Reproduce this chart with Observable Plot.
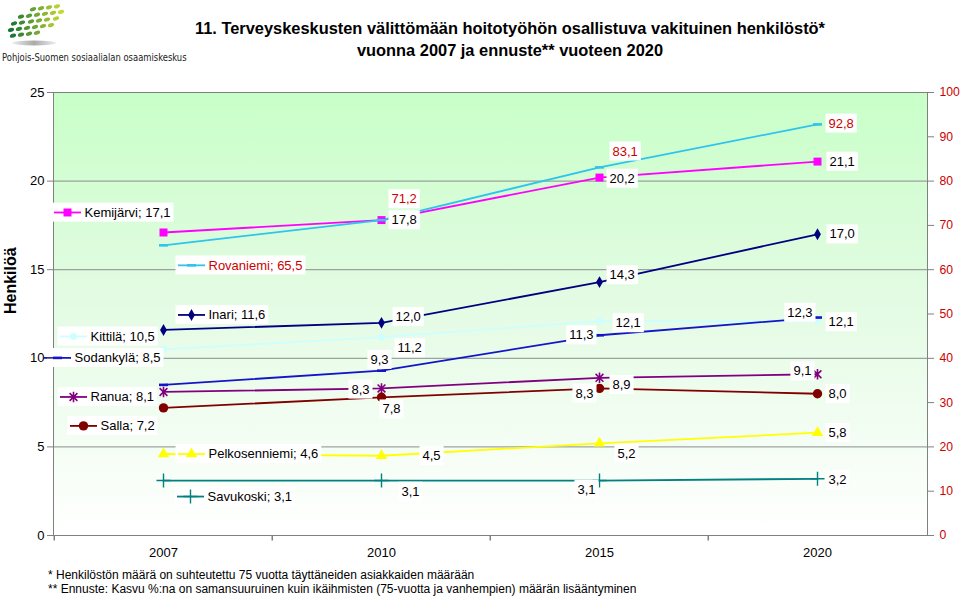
<!DOCTYPE html>
<html>
<head>
<meta charset="utf-8">
<script src="https://cdn.jsdelivr.net/npm/d3@7"></script>
<script src="https://cdn.jsdelivr.net/npm/@observablehq/plot@0.6"></script>
<style>
  body { margin: 0; background: #fff; font-family: Arial, "Liberation Sans", sans-serif; }
  #wrap { position: relative; width: 960px; height: 598px; overflow: hidden; background: #fff; }
  #title { position: absolute; left: 0; width: 1020px; top: 17px; text-align: center; font-weight: bold; font-size: 16.4px; line-height: 22px; color: #000; }
  #logo { position: absolute; left: 0; top: 0; }
  #logotext { position: absolute; left: 2px; top: 50px; font-family: "DejaVu Sans Condensed", "DejaVu Sans", sans-serif; font-size: 10.5px; line-height: 14px; color: #222; white-space: nowrap; transform: scaleX(0.89); transform-origin: 0 0; }
  #chart { position: absolute; left: 0; top: 70px; }
  #notes { position: absolute; left: 48px; top: 568px; font-size: 12px; line-height: 14px; color: #000; white-space: nowrap; }
</style>
</head>
<body>
<div id="wrap">
  <svg id="logo" width="80" height="50"></svg>
  <div id="logotext">Pohjois-Suomen sosiaalialan osaamiskeskus</div>
  <div id="title">11. Terveyskeskusten välittömään hoitotyöhön osallistuva vakituinen henkilöstö*<br>vuonna 2007 ja ennuste** vuoteen 2020</div>
  <div id="chart"></div>
  <div id="notes">* Henkilöstön määrä on suhteutettu 75 vuotta täyttäneiden asiakkaiden määrään<br>** Ennuste: Kasvu %:na on samansuuruinen kuin ikäihmisten (75-vuotta ja vanhempien) määrän lisääntyminen</div>
</div>
<script>
// ---------------- DATA ----------------
const years = ["2007", "2010", "2015", "2020"];
const kemijarvi = [17.1, 17.8, 20.2, 21.1];
const rovaniemi = [65.5, 71.2, 83.1, 92.8];   // read on the right axis (0–100)
const inari = [11.6, 12.0, 14.3, 17.0];
const kittila = [10.5, 11.2, 12.1, 12.1];
const sodankyla = [8.5, 9.3, 11.3, 12.3];
const ranua = [8.1, 8.3, 8.9, 9.1];
const salla = [7.2, 7.8, 8.3, 8.0];
const pelkosenniemi = [4.6, 4.5, 5.2, 5.8];
const savukoski = [3.1, 3.1, 3.1, 3.2];
const leftTicks = [0, 5, 10, 15, 20, 25];
const rightTicks = [0, 10, 20, 30, 40, 50, 60, 70, 80, 90, 100];

// ---------------- LAYOUT / STYLE ----------------
const W = 960, H = 495;
const mL = 53, mR = 33, mT = 22, mB = 30;
const rightToLeft = 25 / 100; // right axis 0–100 maps onto left 0–25
const step = (W - mL - mR) / years.length;

const dashSym = {draw(ctx) { ctx.moveTo(-4.5, -1.3); ctx.lineTo(4.5, -1.3); ctx.lineTo(4.5, 1.3); ctx.lineTo(-4.5, 1.3); ctx.closePath(); }};
const keyLineSym = {draw(ctx) { ctx.moveTo(-13.5, 0); ctx.lineTo(13.5, 0); }};
const starSym = {draw(ctx, size) { const r = Math.sqrt(size / Math.PI); const d = r * 0.75;
  ctx.moveTo(0, -r); ctx.lineTo(0, r); ctx.moveTo(-d, -d); ctx.lineTo(d, d); ctx.moveTo(-d, d); ctx.lineTo(d, -d); }};
const vTickSym = {draw(ctx) { ctx.moveTo(0, 0); ctx.lineTo(0, 5); }};

// label placement per point: [dx, dy, textAnchor]; the first one carries the legend key
const seriesStyle = [
  {name: "Kemijärvi", values: kemijarvi, right: false, color: "#FF00FF", labelColor: "#000",
   marker: {symbol: "square", r: 4.5, fill: "#FF00FF"},
   place: [[-79, -20, "start"], [10, 0, "start"], [10, 1, "start"], [12, 0, "start"]]},
  {name: "Rovaniemi", values: rovaniemi, right: true, color: "#2EC4EE", labelColor: "#CC0000",
   marker: {symbol: dashSym, r: 4, fill: "#2EC4EE"},
   place: [[45, 20, "start"], [10, -21, "start"], [13, -16, "start"], [11, -1, "start"]]},
  {name: "Inari", values: inari, right: false, color: "#000080", labelColor: "#000",
   marker: {symbol: "diamond", r: 3.6, fill: "#000080"},
   place: [[45, -15, "start"], [14, -6, "start"], [10, -7, "start"], [12, 0, "start"]]},
  {name: "Kittilä", values: kittila, right: false, color: "#CCFFFF", labelColor: "#000",
   marker: {symbol: "circle", r: 3.4, fill: "#CCFFFF"},
   place: [[-73, -13, "start"], [16, 11, "start"], [16, 2, "start"], [11, 1, "start"]]},
  {name: "Sodankylä", values: sodankyla, right: false, color: "#1515C8", labelColor: "#000",
   marker: {symbol: dashSym, r: 4, fill: "#1515C8"},
   place: [[-89, -27, "start"], [-2, -11, "middle"], [-6, 0, "end"], [-5, -5, "end"]]},
  {name: "Ranua", values: ranua, right: false, color: "#800080", labelColor: "#000",
   marker: {symbol: starSym, r: 5.2, stroke: "#800080", strokeWidth: 1.6},
   place: [[-73, 5, "start"], [-12, 1, "end"], [13, 7, "start"], [-6, -3, "end"]]},
  {name: "Salla", values: salla, right: false, color: "#800000", labelColor: "#000",
   marker: {symbol: "circle", r: 4.7, fill: "#800000"},
   place: [[-63, 18, "start"], [10, 12, "middle"], [-6, 5, "end"], [11, 0, "start"]]},
  {name: "Pelkosenniemi", values: pelkosenniemi, right: false, color: "#FFFF00", labelColor: "#000",
   marker: {symbol: "triangle", r: 4.2, fill: "#FFFF00"},
   place: [[45, 0, "start"], [41, 0, "start"], [18, 10, "start"], [11, 0, "start"]]},
  {name: "Savukoski", values: savukoski, right: false, color: "#008080", labelColor: "#000",
   marker: {symbol: "plus", r: 4.6, stroke: "#008080", strokeWidth: 1.4},
   place: [[44, 16, "start"], [20, 11, "start"], [-4, 9, "end"], [11, 1, "start"]]}
];

const fmt = v => v.toFixed(1).replace(".", ",");

function markerOpts(m) {
  const o = {symbol: m.symbol, r: m.r};
  if (m.fill) { o.fill = m.fill; o.stroke = "none"; }
  else { o.fill = "none"; o.stroke = m.stroke; o.strokeWidth = m.strokeWidth; }
  return o;
}

const lineMarks = [], dotMarks = [], keyLines = [], keyMarkers = [], texts = [];
for (const s of seriesStyle) {
  const rows = s.values.map((v, i) => ({year: years[i], y: s.right ? v * rightToLeft : v, v}));
  lineMarks.push(Plot.line(rows, {x: "year", y: "y", stroke: s.color, strokeWidth: 1.8}));
  dotMarks.push(Plot.dot(rows, {x: "year", y: "y", ...markerOpts(s.marker)}));
  rows.forEach((r, i) => {
    const [dx, dy, anchor] = s.place[i];
    const keyed = i === 0;
    const datum = [{...r, text: keyed ? `${s.name}; ${fmt(r.v)}` : fmt(r.v)}];
    if (keyed) {
      keyLines.push(Plot.dot(datum, {x: "year", y: "y", symbol: keyLineSym, stroke: s.color, strokeWidth: 1.8, fill: "none", dx: dx - 17, dy, ariaDescription: "keyline"}));
      keyMarkers.push(Plot.dot(datum, {x: "year", y: "y", ...markerOpts(s.marker), dx: dx - 17, dy, ariaDescription: "keymarker"}));
    }
    texts.push(Plot.text(datum, {x: "year", y: "y", text: "text", dx, dy, textAnchor: anchor,
      fill: s.labelColor, fontSize: 13, ariaDescription: keyed ? "keylabel" : "datalabel"}));
  });
}

const chart = Plot.plot({
  width: W, height: H,
  marginLeft: mL, marginRight: mR, marginTop: mT, marginBottom: mB,
  style: {fontFamily: "Arial, 'Liberation Sans', sans-serif", background: "transparent", overflow: "visible"},
  x: {type: "point", domain: years, padding: 0.5, axis: null},
  y: {domain: [0, 25], axis: null},
  marks: [
    Plot.frame({fill: "url(#plotBg)", stroke: "none"}),
    Plot.gridY({ticks: leftTicks.filter(t => t > 0 && t < 25), stroke: "#8c8c8c", strokeOpacity: 1, strokeWidth: 1}),
    Plot.frame({stroke: "#808080", strokeWidth: 1}),
    Plot.axisY({ticks: rightTicks.map(t => t * rightToLeft), anchor: "right", tickSize: 6, tickPadding: 6,
      tickFormat: d => String(Math.round(d / rightToLeft)), stroke: "#808080", fill: "#CC0000", fontSize: 12.2, label: null}),
    Plot.axisX({ticks: years, tickSize: 0, tickPadding: 12, fill: "#000", fontSize: 13, label: null}),
    Plot.dot(years, {x: d => d, y: () => 0, symbol: vTickSym, stroke: "#808080", fill: "none", dx: -step / 2}),
    Plot.text(["Henkilöä"], {frameAnchor: "left", text: d => d, rotate: -90, dx: -43, fontWeight: "bold", fontSize: 16, fill: "#000"}),
    ...lineMarks,
    ...dotMarks,
    ...keyLines,
    ...keyMarkers,
    ...texts,
    Plot.axisY({ticks: leftTicks, anchor: "left", tickSize: 6, tickPadding: 3, stroke: "#808080", fill: "#000", fontSize: 13, label: null})
  ]
});

document.getElementById("chart").appendChild(chart);

// gradient background of the plot area
const svg = d3.select(chart.tagName.toLowerCase() === "svg" ? chart : chart.querySelector("svg"));
const defs = svg.insert("defs", ":first-child");
const grad = defs.append("linearGradient").attr("id", "plotBg").attr("x1", 0).attr("y1", 0).attr("x2", 0).attr("y2", 1);
grad.append("stop").attr("offset", "0%").attr("stop-color", "#C8FFC8");
grad.append("stop").attr("offset", "45%").attr("stop-color", "#E2FBE2");
grad.append("stop").attr("offset", "100%").attr("stop-color", "#FFFFFF");

// white boxes behind data labels (drawn under the legend keys and label texts)
const svgNode = svg.node();
const sr = svgNode.getBoundingClientRect();
const firstKey = svgNode.querySelector("g[aria-description='keyline']");
const boxG = d3.create("svg:g").attr("aria-label", "label boxes");
svg.selectAll("g[aria-description='datalabel'] text, g[aria-description='keylabel'] text").each(function() {
  const b = this.getBoundingClientRect();
  const keyed = this.parentNode.getAttribute("aria-description") === "keylabel";
  const left = b.left - sr.left - (keyed ? 33 : 3);
  const right = b.right - sr.left + 3;
  boxG.append("rect").attr("x", left).attr("y", b.top - sr.top - 2).attr("width", right - left).attr("height", b.height + 4).attr("fill", "#fff");
});
if (firstKey) svgNode.insertBefore(boxG.node(), firstKey); else svgNode.appendChild(boxG.node());

// logo decoration
const logo = d3.select("#logo");
const color = d3.scaleLinear().domain([10, 62]).range(["#17723a", "#c6dc2e"]);
const rowsDots = [
  {y: 9, xs: [33, 41, 49, 57]},
  {y: 15, xs: [21, 29, 37, 45, 53, 61]},
  {y: 21, xs: [14, 22, 31, 39, 47, 56]},
  {y: 27, xs: [11, 19, 27, 35, 43, 51]},
  {y: 33, xs: [13, 21, 29, 37]}
];
const sh = logo.append("defs").append("linearGradient").attr("id", "shadowG");
sh.append("stop").attr("offset", "0%").attr("stop-color", "#eee");
sh.append("stop").attr("offset", "50%").attr("stop-color", "#aaa");
sh.append("stop").attr("offset", "100%").attr("stop-color", "#eee");
logo.append("ellipse").attr("cx", 34).attr("cy", 43).attr("rx", 22).attr("ry", 2.4).attr("fill", "url(#shadowG)");
rowsDots.forEach(r => r.xs.forEach(xv => {
  const cy = r.y - (xv - 35) * 0.12;
  logo.append("ellipse").attr("cx", xv).attr("cy", cy).attr("rx", 3.2).attr("ry", 1.9)
    .attr("transform", `rotate(-18 ${xv} ${cy})`).attr("fill", color(xv));
}));
</script>
</body>
</html>
